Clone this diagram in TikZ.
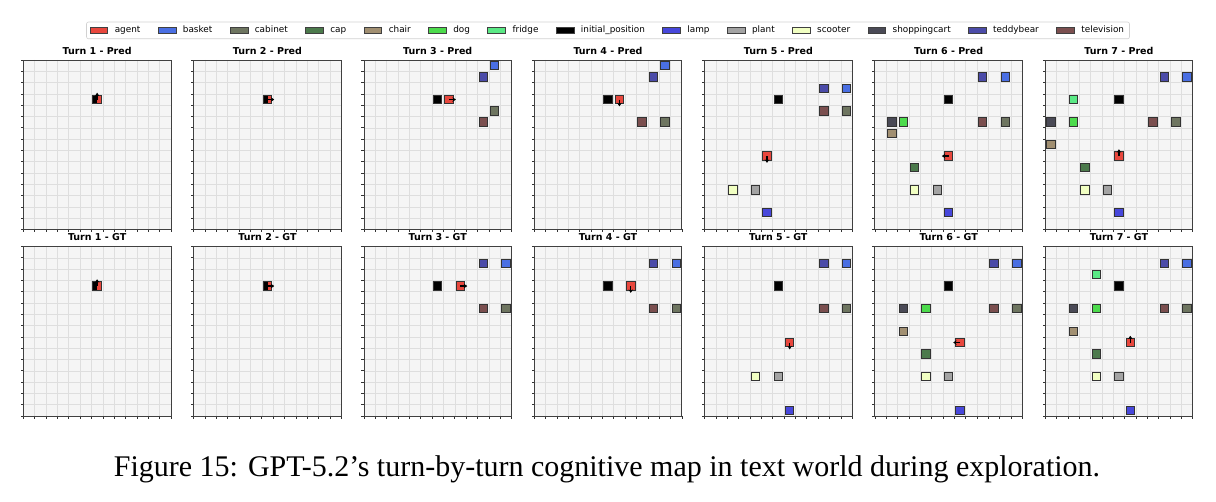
\documentclass[tikz,border=0pt]{standalone}
\usepackage{fontspec}
\setmainfont{Liberation Serif}
\newfontfamily\plotfont{DejaVu Sans}
\usetikzlibrary{arrows.meta,positioning}

% object colours
\definecolor{colagent}{HTML}{E8473D}
\definecolor{colbasket}{HTML}{4A6FE3}
\definecolor{colcabinet}{HTML}{6E7560}
\definecolor{colcap}{HTML}{4C7A4C}
\definecolor{colchair}{HTML}{A18F71}
\definecolor{coldog}{HTML}{4CDB4C}
\definecolor{colfridge}{HTML}{5AE985}
\definecolor{colinitpos}{HTML}{000000}
\definecolor{collamp}{HTML}{4747DB}
\definecolor{colplant}{HTML}{A3A3A3}
\definecolor{colscooter}{HTML}{F1FFC2}
\definecolor{colshoppingcart}{HTML}{4A4A56}
\definecolor{colteddybear}{HTML}{4B4BA8}
\definecolor{coltelevision}{HTML}{7B4F4F}
\definecolor{colaxes}{HTML}{F5F5F5}
\definecolor{colgrid}{HTML}{DEDEDE}

\tikzset{
  mapcell/.style={draw=black!80, line width=0.9pt, fill=#1, minimum size=8.4pt, inner sep=0pt, outer sep=0pt},
  agentarrow/.style={line width=1.3pt, -{Stealth[length=3.4pt,width=4.4pt]}},
  gridline/.style={draw=colgrid, line width=0.5pt},
  axtick/.style={draw=black!80, line width=0.6pt},
  axframe/.style={draw=black!75, line width=0.8pt},
  paneltitle/.style={font=\plotfont\bfseries\fontsize{9.5}{11}\selectfont, inner sep=0pt},
  legpatch/.style={draw=black!75, line width=0.5pt, fill=#1, minimum width=17.7pt, minimum height=6.2pt, inner sep=0pt, outer sep=0pt},
  legtext/.style={font=\plotfont\fontsize{8.87}{10}\selectfont, inner sep=0pt, outer sep=0pt, text height=6.6pt, text depth=1.8pt},
  legframe/.style={draw=black!18, line width=0.6pt, rounded corners=2pt}
}

% one map: #1 column, #2 row (0 pred, 1 gt), #3 id, #4 title, #5 objects
\newcommand{\mappanel}[5]{%
  \begin{scope}[shift={(23.3+170.3*#1,60+186.5*#2)}, x=11.36pt, y=-11.3pt]
    \def\curpanel{#3}%
    \fill[colaxes] (0,0) rectangle (13,15);
    \foreach \i in {1,...,12} \draw[gridline] (\i,0) -- (\i,15);
    \foreach \j in {1,...,14} \draw[gridline] (0,\j) -- (13,\j);
    #5
    \foreach \j in {0,...,15} \draw[axtick] (0,\j) -- ++(-2.6pt,0);
    \foreach \i in {0,...,13} \draw[axtick] (\i,15) -- ++(0,-2.6pt);
    \draw[axframe] (0,0) rectangle (13,15);
    \node[paneltitle, anchor=base, yshift=5.9pt] (#3-title) at (6.5,0) {#4};
  \end{scope}}

% object in a cell
\newcommand{\mapobj}[3]{\node[mapcell=col#1] (\curpanel-#1) at ({#2+.5},{#3+.5}) {};}
% agent with heading
\newcommand{\mapagent}[3]{%
  \node[mapcell=colagent] (\curpanel-agent) at ({#1+.5},{#2+.5}) {};
  \draw[agentarrow] (\curpanel-agent.center) -- ++(#3:6.8pt);}
% agent still on its start cell
\newcommand{\mapstart}[3]{%
  \node[mapcell=colinitpos] (\curpanel-initpos) at ({#1+.5},{#2+.5}) {};
  \fill[colagent] ([shift={(0.3pt,-3.75pt)}]\curpanel-initpos.center) rectangle ([shift={(3.75pt,3.75pt)}]\curpanel-initpos.center);
  \draw[agentarrow] (\curpanel-initpos.center) -- ++(#3:6.8pt);}

\begin{document}
\begin{tikzpicture}[x=1pt, y=-1pt]
  \useasboundingbox (0,0) rectangle (1216,502);

  % legend
  \node[legpatch=colagent, anchor=west] (lp-agent) at (90,30.3) {};
  \node[legtext, right=7.1pt of lp-agent] (lt-agent) {agent};
  \foreach \nm/\lbl [remember=\nm as \last (initially agent)] in
    {basket/basket, cabinet/cabinet, cap/cap, chair/chair, dog/dog, fridge/fridge,
     initpos/initial\_position, lamp/lamp, plant/plant, scooter/scooter,
     shoppingcart/shoppingcart, teddybear/teddybear, television/television}{
    \node[legpatch=col\nm, right=17.7pt of lt-\last] (lp-\nm) {};
    \node[legtext, right=7.1pt of lp-\nm] (lt-\nm) {\lbl};
  }
  \draw[legframe] (86.5,22) rectangle (1129.5,38.8);

  % predicted maps
  \mappanel{0}{0}{t1p}{Turn 1 - Pred}{\mapstart{6}{3}{90}}
  \mappanel{1}{0}{t2p}{Turn 2 - Pred}{\mapstart{6}{3}{0}}
  \mappanel{2}{0}{t3p}{Turn 3 - Pred}{%
    \mapobj{basket}{11}{0} \mapobj{teddybear}{10}{1}
    \mapobj{cabinet}{11}{4} \mapobj{television}{10}{5}
    \mapobj{initpos}{6}{3} \mapagent{7}{3}{0}}
  \mappanel{3}{0}{t4p}{Turn 4 - Pred}{%
    \mapobj{basket}{11}{0} \mapobj{teddybear}{10}{1}
    \mapobj{television}{9}{5} \mapobj{cabinet}{11}{5}
    \mapobj{initpos}{6}{3} \mapagent{7}{3}{-90}}
  \mappanel{4}{0}{t5p}{Turn 5 - Pred}{%
    \mapobj{teddybear}{10}{2} \mapobj{basket}{12}{2}
    \mapobj{television}{10}{4} \mapobj{cabinet}{12}{4}
    \mapobj{scooter}{2}{11} \mapobj{plant}{4}{11} \mapobj{lamp}{5}{13}
    \mapobj{initpos}{6}{3} \mapagent{5}{8}{-90}}
  \mappanel{5}{0}{t6p}{Turn 6 - Pred}{%
    \mapobj{teddybear}{9}{1} \mapobj{basket}{11}{1}
    \mapobj{shoppingcart}{1}{5} \mapobj{dog}{2}{5}
    \mapobj{television}{9}{5} \mapobj{cabinet}{11}{5}
    \mapobj{chair}{1}{6} \mapobj{cap}{3}{9}
    \mapobj{scooter}{3}{11} \mapobj{plant}{5}{11} \mapobj{lamp}{6}{13}
    \mapobj{initpos}{6}{3} \mapagent{6}{8}{180}}
  \mappanel{6}{0}{t7p}{Turn 7 - Pred}{%
    \mapobj{teddybear}{10}{1} \mapobj{basket}{12}{1} \mapobj{fridge}{2}{3}
    \mapobj{shoppingcart}{0}{5} \mapobj{dog}{2}{5}
    \mapobj{television}{9}{5} \mapobj{cabinet}{11}{5}
    \mapobj{chair}{0}{7} \mapobj{cap}{3}{9}
    \mapobj{scooter}{3}{11} \mapobj{plant}{5}{11} \mapobj{lamp}{6}{13}
    \mapobj{initpos}{6}{3} \mapagent{6}{8}{90}}

  % ground truth maps
  \mappanel{0}{1}{t1g}{Turn 1 - GT}{\mapstart{6}{3}{90}}
  \mappanel{1}{1}{t2g}{Turn 2 - GT}{\mapstart{6}{3}{0}}
  \mappanel{2}{1}{t3g}{Turn 3 - GT}{%
    \mapobj{teddybear}{10}{1} \mapobj{basket}{12}{1}
    \mapobj{television}{10}{5} \mapobj{cabinet}{12}{5}
    \mapobj{initpos}{6}{3} \mapagent{8}{3}{0}}
  \mappanel{3}{1}{t4g}{Turn 4 - GT}{%
    \mapobj{teddybear}{10}{1} \mapobj{basket}{12}{1}
    \mapobj{television}{10}{5} \mapobj{cabinet}{12}{5}
    \mapobj{initpos}{6}{3} \mapagent{8}{3}{-90}}
  \mappanel{4}{1}{t5g}{Turn 5 - GT}{%
    \mapobj{teddybear}{10}{1} \mapobj{basket}{12}{1}
    \mapobj{television}{10}{5} \mapobj{cabinet}{12}{5}
    \mapobj{scooter}{4}{11} \mapobj{plant}{6}{11} \mapobj{lamp}{7}{14}
    \mapobj{initpos}{6}{3} \mapagent{7}{8}{-90}}
  \mappanel{5}{1}{t6g}{Turn 6 - GT}{%
    \mapobj{teddybear}{10}{1} \mapobj{basket}{12}{1}
    \mapobj{shoppingcart}{2}{5} \mapobj{dog}{4}{5}
    \mapobj{television}{10}{5} \mapobj{cabinet}{12}{5}
    \mapobj{chair}{2}{7} \mapobj{cap}{4}{9}
    \mapobj{scooter}{4}{11} \mapobj{plant}{6}{11} \mapobj{lamp}{7}{14}
    \mapobj{initpos}{6}{3} \mapagent{7}{8}{180}}
  \mappanel{6}{1}{t7g}{Turn 7 - GT}{%
    \mapobj{teddybear}{10}{1} \mapobj{basket}{12}{1} \mapobj{fridge}{4}{2}
    \mapobj{shoppingcart}{2}{5} \mapobj{dog}{4}{5}
    \mapobj{television}{10}{5} \mapobj{cabinet}{12}{5}
    \mapobj{chair}{2}{7} \mapobj{cap}{4}{9}
    \mapobj{scooter}{4}{11} \mapobj{plant}{6}{11} \mapobj{lamp}{7}{14}
    \mapobj{initpos}{6}{3} \mapagent{7}{8}{90}}

  % caption
  \node[font=\fontsize{30}{36}\selectfont, inner sep=0pt, anchor=base] (caption) at (607,476)
    {Figure 15: GPT-5.2's turn-by-turn cognitive map in text world during exploration.};
\end{tikzpicture}
\end{document}
